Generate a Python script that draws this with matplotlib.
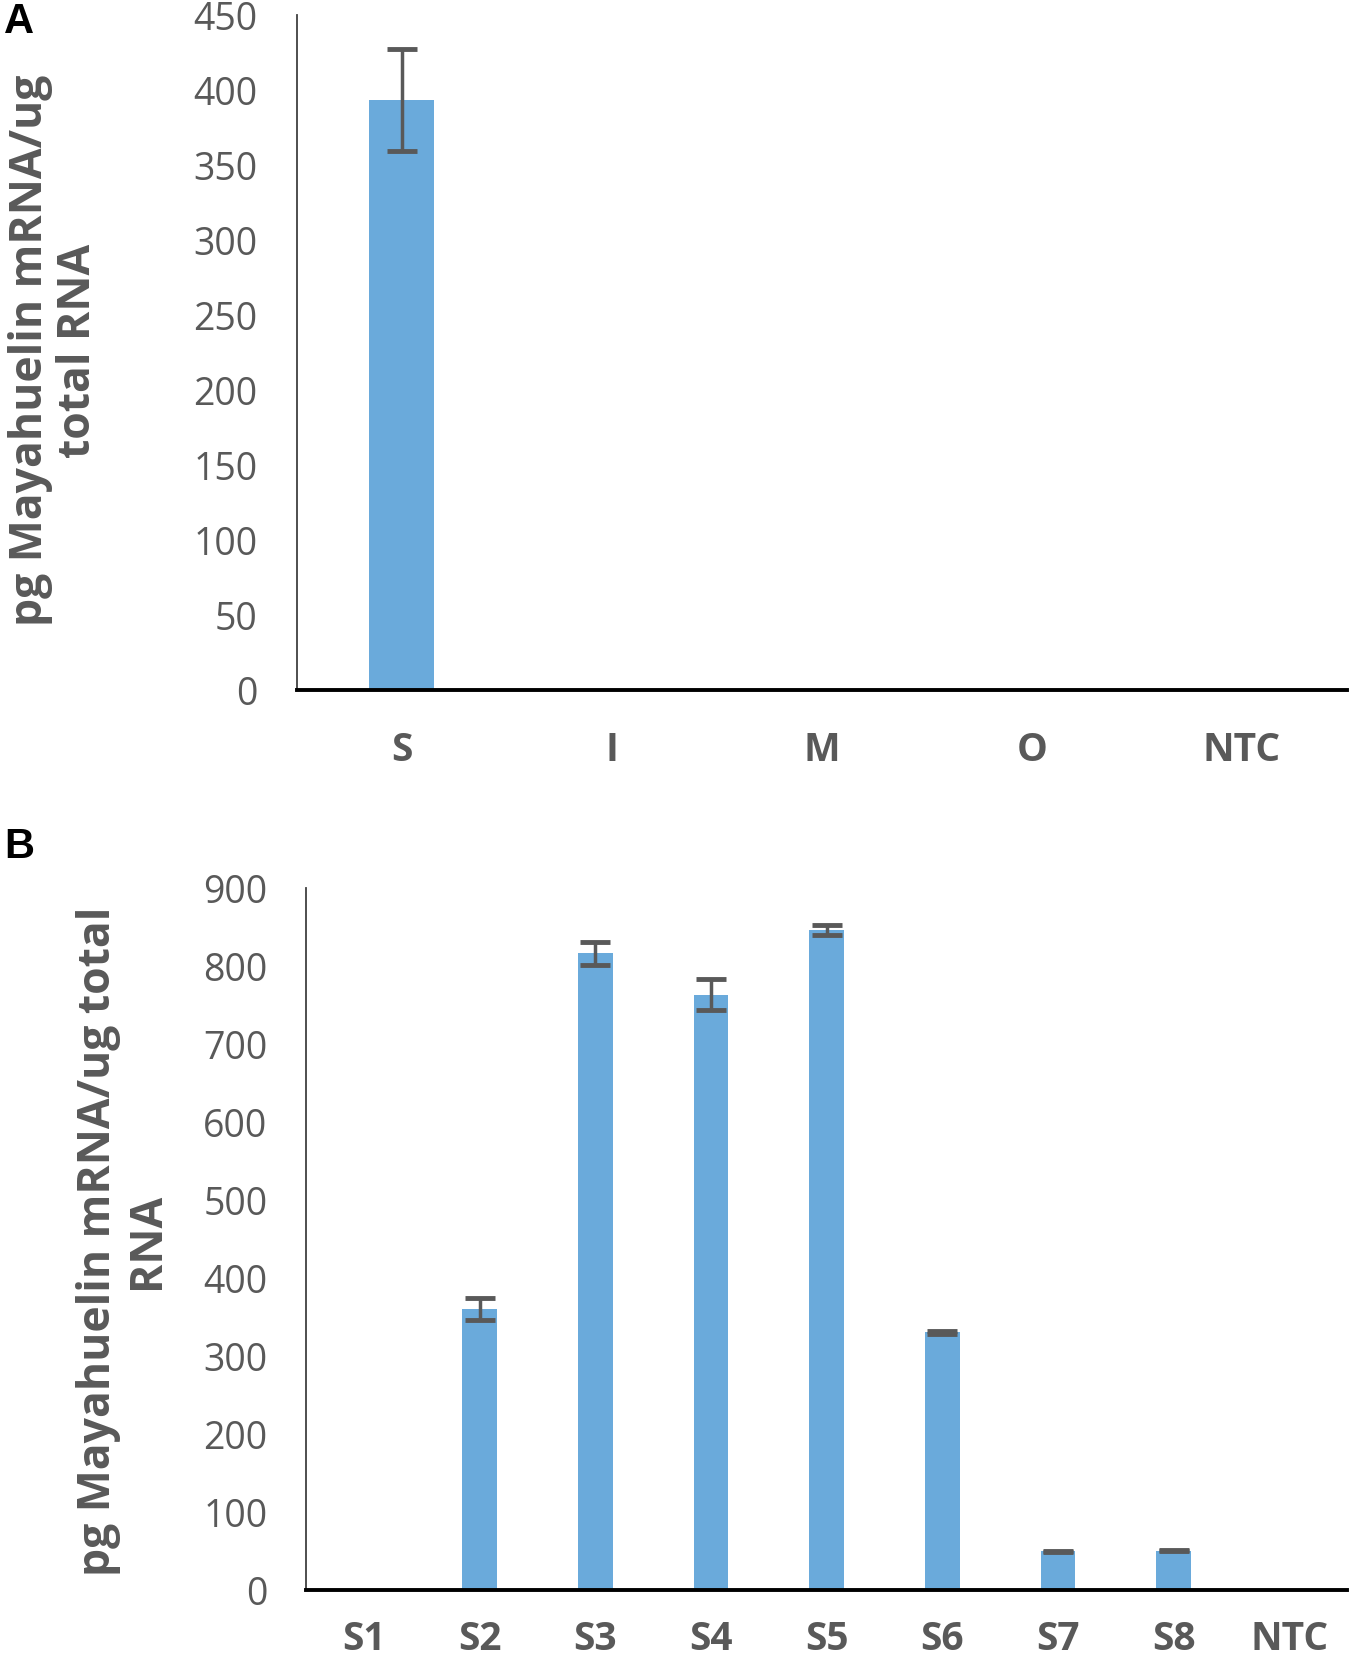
import numpy as np
import matplotlib.pyplot as plt

# panel A: tissue
cats_a = ["S", "I", "M", "O", "NTC"]
vals_a = [393, 0, 0, 0, 0]
errs_a = [34, 0, 0, 0, 0]

# panel B: stages
cats_b = ["S1", "S2", "S3", "S4", "S5", "S6", "S7", "S8", "NTC"]
vals_b = [0, 360, 816, 763, 846, 330, 49, 50, 0]
errs_b = [0, 14, 15, 20, 6, 2, 1, 1, 0]

ylabel_a = "pg Mayahuelin mRNA/ug\ntotal RNA"
ylabel_b = "pg Mayahuelin mRNA/ug total\nRNA"

bar_col = "#6AAADB"
txt_col = "#595959"
plt.rcParams['font.family'] = ['Open Sans', 'DejaVu Sans']

fig = plt.figure(figsize=(13.5, 16.65), dpi=100)
ax_a = fig.add_axes([0.2197, 0.585, 0.778, 0.4055])
ax_b = fig.add_axes([0.2268, 0.0447, 0.771, 0.4215])


def style(ax, cats, vals, errs, ymax, step, width, xpad):
    x = np.arange(len(cats))
    e = np.array(errs, dtype=float)
    ax.bar(x, vals, width=width, color=bar_col, zorder=2)
    m = e > 0
    ax.errorbar(x[m], np.array(vals)[m], yerr=e[m], fmt='none', ecolor=txt_col,
                elinewidth=2.5, capsize=11, capthick=3.5, zorder=3)
    ax.set_xlim(-0.5, len(cats) - 0.5)
    ax.set_ylim(0, ymax)
    ax.set_yticks(np.arange(0, ymax + 1, step))
    ax.set_xticks(x)
    ax.set_xticklabels(cats, fontweight='bold', fontsize=28)
    ax.tick_params(axis='both', length=0, labelsize=27, colors=txt_col)
    ax.tick_params(axis='x', pad=xpad, labelsize=28)
    ax.tick_params(axis='y', pad=28)
    for s in ['top', 'right']:
        ax.spines[s].set_visible(False)
    ax.spines['left'].set_color('#404040')
    ax.spines['left'].set_linewidth(1.3)
    ax.spines['bottom'].set_color('black')
    ax.spines['bottom'].set_linewidth(2.8)
    ax.spines['bottom'].set_zorder(4)


style(ax_a, cats_a, vals_a, errs_a, 450, 50, 0.31, 29)
style(ax_b, cats_b, vals_b, errs_b, 900, 100, 0.30, 21)

ax_a.set_ylabel(ylabel_a, fontsize=32, fontweight='bold', color=txt_col,
                linespacing=1.1)
ax_a.yaxis.set_label_coords(-0.186, 0.504)
ax_b.set_ylabel(ylabel_b, fontsize=32, fontweight='bold', color=txt_col,
                linespacing=1.1)
ax_b.yaxis.set_label_coords(-0.131, 0.498)

fig.text(0.003, 0.987, "A", fontsize=30, fontweight='bold', family='Liberation Sans',
         va='center', ha='left')
fig.text(0.003, 0.491, "B", fontsize=30, fontweight='bold', family='Liberation Sans',
         va='center', ha='left')

fig.savefig("out.png", dpi=100)
